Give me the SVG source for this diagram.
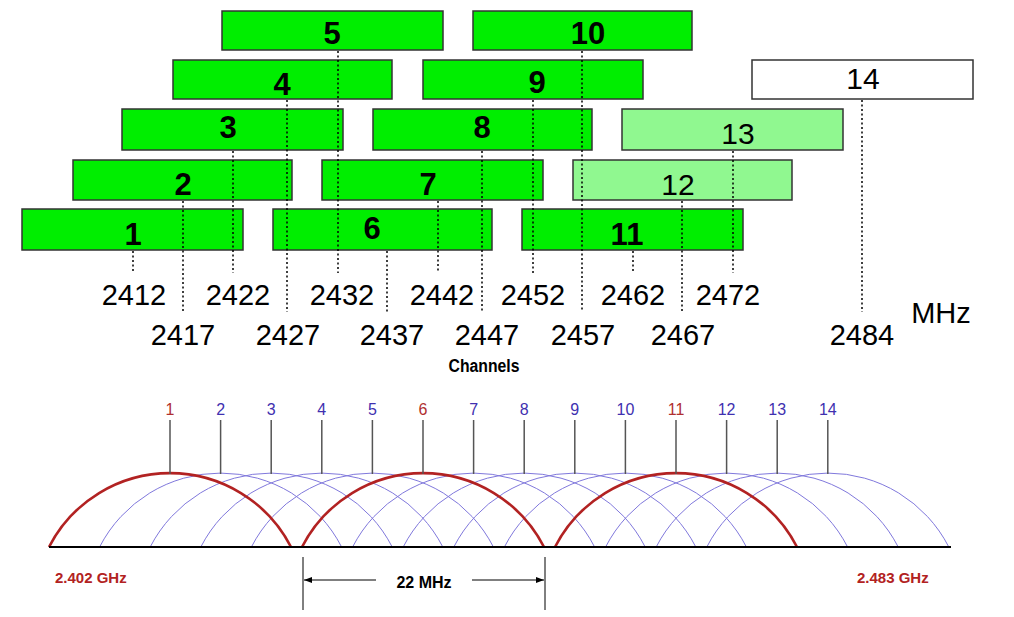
<svg xmlns="http://www.w3.org/2000/svg" width="1014" height="617" viewBox="0 0 1014 617">
<style>
.bar{stroke:#333;stroke-width:1.5}
.g{fill:#00ee00}
.lg{fill:#90f890}
.w{fill:#fff}
.bn{font-family:"Liberation Sans",Arial,sans-serif;font-size:31px;font-weight:bold;text-anchor:middle;fill:#000}
.bnr{font-family:"Liberation Sans",Arial,sans-serif;font-size:30px;text-anchor:middle;fill:#000}
.dot{stroke:#000;stroke-width:1.5;stroke-dasharray:2 2.5;fill:none}
.fq{font-family:"Liberation Sans",Arial,sans-serif;font-size:29px;text-anchor:middle;fill:#000}
.blue{fill:none;stroke:#8078dc;stroke-width:1}
.red{fill:none;stroke:#b22222;stroke-width:2.6}
.tick{stroke:#555;stroke-width:1.5}
.cl{font-family:"Liberation Sans",Arial,sans-serif;font-size:16px;text-anchor:middle}
.cr{fill:#b03030}
.cb{fill:#4030b0}
.ghz{font-family:"Liberation Sans",Arial,sans-serif;font-size:15px;font-weight:bold;fill:#b22222}
</style>
<defs>
<marker id="ah" viewBox="0 0 8 8" refX="8" refY="4" markerWidth="8" markerHeight="8" orient="auto" markerUnits="userSpaceOnUse">
<path d="M0,1 L8,4 L0,7 Z" fill="#000"/>
</marker>
</defs>
<rect width="1014" height="617" fill="#fff"/>

<g id="ch5"><rect class="bar g" x="222" y="11" width="221" height="39"/><text class="bn" x="332" y="44">5</text></g>
<g id="ch10"><rect class="bar g" x="473" y="11" width="219" height="39"/><text class="bn" x="588" y="44">10</text></g>
<g id="ch4"><rect class="bar g" x="173" y="60" width="219" height="39"/><text class="bn" x="282" y="95">4</text></g>
<g id="ch9"><rect class="bar g" x="423" y="60" width="220" height="39"/><text class="bn" x="537" y="93">9</text></g>
<g id="ch14"><rect class="bar w" x="752" y="60" width="221" height="39"/><text class="bnr" x="863" y="89">14</text></g>
<g id="ch3"><rect class="bar g" x="122" y="109" width="221" height="41"/><text class="bn" x="228" y="138">3</text></g>
<g id="ch8"><rect class="bar g" x="373" y="109" width="219" height="41"/><text class="bn" x="482" y="138">8</text></g>
<g id="ch13"><rect class="bar lg" x="622" y="109" width="221" height="41"/><text class="bnr" x="738" y="144">13</text></g>
<g id="ch2"><rect class="bar g" x="73" y="160" width="219" height="40"/><text class="bn" x="183" y="195">2</text></g>
<g id="ch7"><rect class="bar g" x="322" y="160" width="221" height="40"/><text class="bn" x="428" y="195">7</text></g>
<g id="ch12"><rect class="bar lg" x="573" y="160" width="219" height="40"/><text class="bnr" x="678" y="195">12</text></g>
<g id="ch1"><rect class="bar g" x="22" y="209" width="221" height="41"/><text class="bn" x="133" y="245">1</text></g>
<g id="ch6"><rect class="bar g" x="273" y="209" width="219" height="41"/><text class="bn" x="372" y="239">6</text></g>
<g id="ch11"><rect class="bar g" x="522" y="209" width="221" height="41"/><text class="bn" x="627" y="245">11</text></g>

<g id="connectors">
<line class="dot" x1="133" y1="251" x2="133" y2="273"/>
<line class="dot" x1="183" y1="201" x2="183" y2="312"/>
<line class="dot" x1="233" y1="151" x2="233" y2="273"/>
<line class="dot" x1="287" y1="100" x2="287" y2="312"/>
<line class="dot" x1="338" y1="51" x2="338" y2="273"/>
<line class="dot" x1="387" y1="251" x2="387" y2="312"/>
<line class="dot" x1="438" y1="201" x2="438" y2="273"/>
<line class="dot" x1="482" y1="151" x2="482" y2="312"/>
<line class="dot" x1="533" y1="100" x2="533" y2="273"/>
<line class="dot" x1="582" y1="51" x2="582" y2="312"/>
<line class="dot" x1="633" y1="251" x2="633" y2="273"/>
<line class="dot" x1="682" y1="201" x2="682" y2="312"/>
<line class="dot" x1="733" y1="151" x2="733" y2="273"/>
<line class="dot" x1="862" y1="100" x2="862" y2="312"/>
</g>

<g id="freqs">
<text class="fq" x="134" y="305">2412</text>
<text class="fq" x="238" y="305">2422</text>
<text class="fq" x="342" y="305">2432</text>
<text class="fq" x="442" y="305">2442</text>
<text class="fq" x="533" y="305">2452</text>
<text class="fq" x="633" y="305">2462</text>
<text class="fq" x="728" y="305">2472</text>
<text class="fq" x="183" y="345">2417</text>
<text class="fq" x="288" y="345">2427</text>
<text class="fq" x="392" y="345">2437</text>
<text class="fq" x="487" y="345">2447</text>
<text class="fq" x="583" y="345">2457</text>
<text class="fq" x="683" y="345">2467</text>
<text class="fq" x="862" y="345">2484</text>
<text class="fq" x="941" y="323">MHz</text>
<text x="484" y="372" font-family="Liberation Sans,Arial,sans-serif" font-size="18" font-weight="bold" text-anchor="middle" textLength="71" lengthAdjust="spacingAndGlyphs">Channels</text>
</g>

<g id="spectrum">
<g id="blue-arcs">
<path class="blue" d="M99.6,547 A136,136 0 0 1 341.6,547"/>
<path class="blue" d="M150.2,547 A136,136 0 0 1 392.2,547"/>
<path class="blue" d="M200.8,547 A136,136 0 0 1 442.8,547"/>
<path class="blue" d="M251.4,547 A136,136 0 0 1 493.4,547"/>
<path class="blue" d="M352.6,547 A136,136 0 0 1 594.6,547"/>
<path class="blue" d="M403.2,547 A136,136 0 0 1 645.2,547"/>
<path class="blue" d="M453.8,547 A136,136 0 0 1 695.8,547"/>
<path class="blue" d="M504.4,547 A136,136 0 0 1 746.4,547"/>
<path class="blue" d="M605.6,547 A136,136 0 0 1 847.6,547"/>
<path class="blue" d="M656.2,547 A136,136 0 0 1 898.2,547"/>
<path class="blue" d="M706.8,547 A136,136 0 0 1 948.8,547"/>
</g>
<g id="red-arcs">
<path class="red" d="M49,547 A136,136 0 0 1 291,547"/>
<path class="red" d="M302,547 A136,136 0 0 1 544,547"/>
<path class="red" d="M555,547 A136,136 0 0 1 797,547"/>
</g>
<line x1="49" y1="547" x2="951" y2="547" stroke="#000" stroke-width="2"/>
<g id="ticks">
<line class="tick" x1="170" y1="420" x2="170" y2="474"/>
<line class="tick" x1="220.6" y1="420" x2="220.6" y2="474"/>
<line class="tick" x1="271.2" y1="420" x2="271.2" y2="474"/>
<line class="tick" x1="321.8" y1="420" x2="321.8" y2="474"/>
<line class="tick" x1="372.4" y1="420" x2="372.4" y2="474"/>
<line class="tick" x1="423" y1="420" x2="423" y2="474"/>
<line class="tick" x1="473.6" y1="420" x2="473.6" y2="474"/>
<line class="tick" x1="524.2" y1="420" x2="524.2" y2="474"/>
<line class="tick" x1="574.8" y1="420" x2="574.8" y2="474"/>
<line class="tick" x1="625.4" y1="420" x2="625.4" y2="474"/>
<line class="tick" x1="676" y1="420" x2="676" y2="474"/>
<line class="tick" x1="726.6" y1="420" x2="726.6" y2="474"/>
<line class="tick" x1="777.2" y1="420" x2="777.2" y2="474"/>
<line class="tick" x1="827.8" y1="420" x2="827.8" y2="474"/>
</g>
<g id="chan-labels">
<text class="cl cr" x="170" y="415">1</text>
<text class="cl cb" x="220.6" y="415">2</text>
<text class="cl cb" x="271.2" y="415">3</text>
<text class="cl cb" x="321.8" y="415">4</text>
<text class="cl cb" x="372.4" y="415">5</text>
<text class="cl cr" x="423" y="415">6</text>
<text class="cl cb" x="473.6" y="415">7</text>
<text class="cl cb" x="524.2" y="415">8</text>
<text class="cl cb" x="574.8" y="415">9</text>
<text class="cl cb" x="625.4" y="415">10</text>
<text class="cl cr" x="676" y="415">11</text>
<text class="cl cb" x="726.6" y="415">12</text>
<text class="cl cb" x="777.2" y="415">13</text>
<text class="cl cb" x="827.8" y="415">14</text>
</g>
<text class="ghz" x="55" y="583">2.402 GHz</text>
<text class="ghz" x="857" y="583">2.483 GHz</text>
<g id="dimension">
<line x1="303" y1="557" x2="303" y2="610" stroke="#000" stroke-width="1"/>
<line x1="545" y1="557" x2="545" y2="610" stroke="#000" stroke-width="1"/>
<line x1="376" y1="580" x2="304" y2="580" stroke="#000" stroke-width="1" marker-end="url(#ah)"/>
<line x1="472" y1="580" x2="544" y2="580" stroke="#000" stroke-width="1" marker-end="url(#ah)"/>
<text x="424" y="588" font-family="Liberation Sans,Arial,sans-serif" font-size="16" font-weight="bold" text-anchor="middle">22 MHz</text>
</g>
</g>
</svg>
